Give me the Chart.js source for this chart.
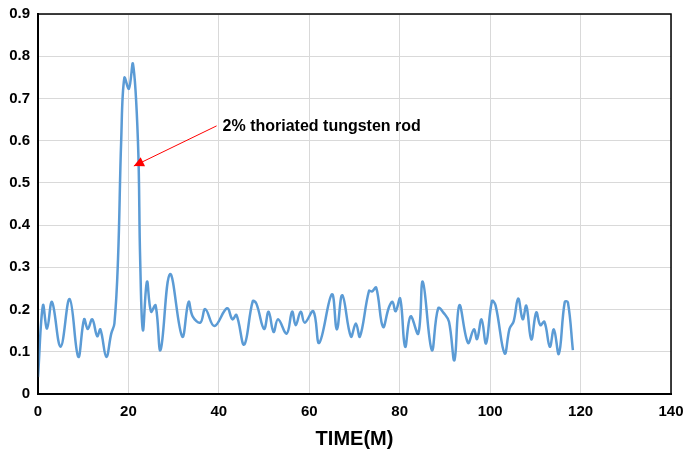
<!DOCTYPE html>
<html>
<head>
<meta charset="utf-8">
<script src="https://cdn.jsdelivr.net/npm/chart.js@4.4.0/dist/chart.umd.min.js"></script>
<style>
  html, body { margin: 0; padding: 0; background: #fff; }
  #wrap { width: 687px; height: 455px; }
</style>
</head>
<body>
<div id="wrap"><canvas id="chart"></canvas></div>
<script>
const timeValues = [
  0, 1.1, 2.0, 3.1, 5.0, 7.0, 8.9, 10.2, 11.0, 12.0, 13.1, 13.8, 15.1, 16.2, 16.9,
  17.7, 18.4, 19.1, 20.1, 21.0, 22.1, 22.6, 23.2, 24.1, 25.0, 26.0, 27.1, 29.2,
  31.9, 33.3, 34.2, 35.9, 37.0, 39.0, 41.8, 43.0, 43.9, 45.6, 47.5, 48.3, 50.0,
  51.0, 52.1, 53.1, 55.0, 56.2, 57.0, 58.1, 59.0, 60.9, 62.2, 65.0, 66.1, 67.3,
  69.2, 70.3, 71.2, 73.2, 73.9, 74.8, 76.3, 77.6, 78.4, 79.1, 80.1, 81.2, 82.4,
  84.1, 85.1, 87.1, 88.5, 89.8, 90.9, 92.1, 93.2, 95.1, 96.4, 97.1, 98.1, 99.1,
  100.4, 101.2, 103.2, 104.3, 105.2, 106.2, 107.2, 108.0, 109.1, 110.2, 111.1,
  112.0, 113.2, 114.1, 115.2, 116.5, 117.2, 118.3
];
const signalValues = [
  0.04, 0.21, 0.155, 0.218, 0.112, 0.225, 0.088, 0.177, 0.154, 0.177, 0.137, 0.153, 0.088, 0.143, 0.167,
  0.32, 0.60, 0.749, 0.723, 0.782, 0.60, 0.317, 0.151, 0.266, 0.195, 0.21, 0.104, 0.284,
  0.136, 0.218, 0.184, 0.169, 0.201, 0.161, 0.203, 0.177, 0.187, 0.117, 0.22, 0.214, 0.154,
  0.195, 0.147, 0.177, 0.143, 0.195, 0.163, 0.195, 0.169, 0.196, 0.121, 0.236, 0.153, 0.234,
  0.136, 0.167, 0.136, 0.244, 0.243, 0.252, 0.159, 0.205, 0.218, 0.196, 0.226, 0.112, 0.184,
  0.143, 0.266, 0.104, 0.203, 0.191, 0.171, 0.08, 0.21, 0.121, 0.153, 0.13, 0.177, 0.12,
  0.22, 0.21, 0.096, 0.155, 0.172, 0.226, 0.177, 0.209, 0.129, 0.193, 0.163,
  0.171, 0.112, 0.153, 0.095, 0.218, 0.217, 0.104
];

// annotation: label position and arrow tip in data units
const noteText = '2% thoriated tungsten rod';
const noteLabelAt = [39.5, 0.635];
const noteTipAt = [21.2, 0.54];

const FONT = "'Liberation Sans', Arial, sans-serif";

const frameAndNote = {
  id: 'frameAndNote',
  afterDraw(chart) {
    const { ctx, chartArea: a, scales: { x, y } } = chart;
    ctx.save();
    ctx.strokeStyle = '#000';
    ctx.lineWidth = 1.5;
    ctx.strokeRect(a.left, a.top, a.right - a.left, a.bottom - a.top);

    const sx = x.getPixelForValue(noteLabelAt[0]);
    const sy = y.getPixelForValue(noteLabelAt[1]);
    const tx = x.getPixelForValue(noteTipAt[0]);
    const ty = y.getPixelForValue(noteTipAt[1]);
    ctx.strokeStyle = '#ff0000';
    ctx.fillStyle = '#ff0000';
    ctx.lineWidth = 1;
    ctx.beginPath();
    ctx.moveTo(sx, sy);
    ctx.lineTo(tx, ty);
    ctx.stroke();
    const ang = Math.atan2(ty - sy, tx - sx);
    const len = 10, half = 5;
    ctx.beginPath();
    ctx.moveTo(tx, ty);
    ctx.lineTo(tx - len * Math.cos(ang) + half * Math.sin(ang), ty - len * Math.sin(ang) - half * Math.cos(ang));
    ctx.lineTo(tx - len * Math.cos(ang) - half * Math.sin(ang), ty - len * Math.sin(ang) + half * Math.cos(ang));
    ctx.closePath();
    ctx.fill();

    ctx.fillStyle = '#000';
    ctx.font = 'bold 16px ' + FONT;
    ctx.textAlign = 'left';
    ctx.textBaseline = 'middle';
    ctx.fillText(noteText, sx + 6, sy + 1);
    ctx.restore();
  }
};

new Chart(document.getElementById('chart'), {
  type: 'line',
  data: {
    datasets: [{
      label: 'signal',
      data: timeValues.map((t, i) => ({ x: t, y: signalValues[i] })),
      borderColor: '#5b9bd5',
      borderWidth: 2.5,
      pointRadius: 0,
      tension: 0.4,
      fill: false
    }]
  },
  options: {
    responsive: true,
    maintainAspectRatio: false,
    animation: false,
    layout: { padding: { left: 0, right: 16, top: 14, bottom: 4 } },
    plugins: {
      legend: { display: false },
      tooltip: { enabled: false }
    },
    scales: {
      x: {
        type: 'linear',
        min: 0,
        max: 140,
        grid: { color: '#d9d9d9', lineWidth: 1, drawTicks: false },
        border: { color: '#000', width: 2 },
        afterFit(scale) {
          scale.height = 57;
          scale.paddingRight = 0;
          scale.paddingLeft = 0;
        },
        ticks: {
          stepSize: 20,
          padding: 9,
          color: '#000',
          font: { family: FONT, size: 15, weight: 'bold' }
        },
        title: {
          display: true,
          text: 'TIME(M)',
          color: '#000',
          padding: { top: 4, bottom: 0 },
          font: { family: FONT, size: 20, weight: 'bold' }
        }
      },
      y: {
        min: 0,
        max: 0.9,
        grid: { color: '#d9d9d9', lineWidth: 1, drawTicks: false },
        border: { color: '#000', width: 2 },
        afterFit(scale) {
          scale.width = 38;
          scale.paddingTop = 0;
          scale.paddingBottom = 0;
        },
        ticks: {
          stepSize: 0.1,
          padding: 8,
          color: '#000',
          callback: v => Number(v.toFixed(1)).toString(),
          font: { family: FONT, size: 15, weight: 'bold' }
        }
      }
    }
  },
  plugins: [frameAndNote]
});
</script>
</body>
</html>
